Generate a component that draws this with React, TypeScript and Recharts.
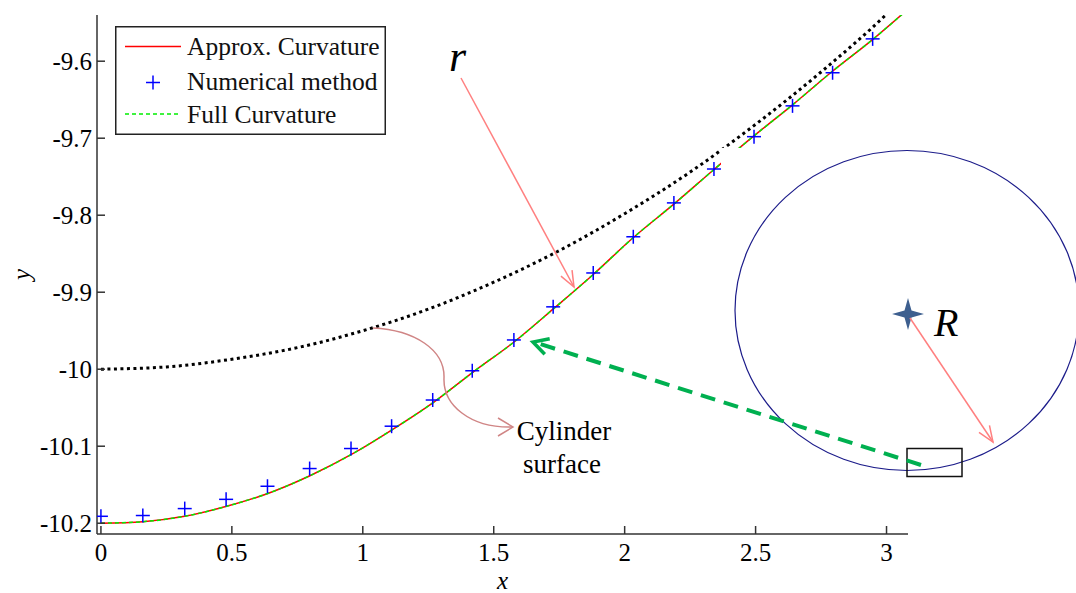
import { ComposedChart, Line, XAxis, YAxis, Legend } from 'recharts';

const FONT = '"Liberation Serif", "Times New Roman", serif';
const AXIS = '#333';

const xTicks = [0, 0.5, 1, 1.5, 2, 2.5, 3];
const yTicks = [-10.2, -10.1, -10, -9.9, -9.8, -9.7, -9.6];

// approx. curvature (red)
const approxX = [0, 0.16, 0.32, 0.48, 0.64, 0.8, 0.96, 1.11, 1.27, 1.42, 1.58, 1.73, 1.88, 2.03, 2.19, 2.34, 2.49, 2.64, 2.79, 2.95, 3.08];
const approxY = [-10.2, -10.198, -10.191, -10.178, -10.161, -10.138, -10.11, -10.079, -10.043, -10.004, -9.964, -9.921, -9.877, -9.83, -9.785, -9.741, -9.698, -9.657, -9.614, -9.571, -9.533];

// full curvature (green dashed) - sits on top of the red one
const fullX = [0, 0.16, 0.32, 0.48, 0.64, 0.8, 0.96, 1.11, 1.27, 1.42, 1.58, 1.73, 1.88, 2.03, 2.19, 2.34, 2.49, 2.64, 2.79, 2.95, 3.08];
const fullY = [-10.2, -10.198, -10.191, -10.178, -10.161, -10.138, -10.11, -10.079, -10.043, -10.004, -9.964, -9.921, -9.877, -9.83, -9.785, -9.741, -9.698, -9.657, -9.614, -9.571, -9.533];

// numerical method (blue +)
const numX = [0, 0.16, 0.32, 0.478, 0.636, 0.797, 0.955, 1.11, 1.267, 1.418, 1.577, 1.727, 1.88, 2.033, 2.188, 2.341, 2.494, 2.641, 2.794, 2.947];
const numY = [-10.191, -10.19, -10.181, -10.169, -10.152, -10.129, -10.103, -10.074, -10.04, -10.002, -9.962, -9.919, -9.875, -9.828, -9.784, -9.74, -9.698, -9.658, -9.615, -9.571];

// cylinder surface (black dotted)
const cylX = [0, 0.25, 0.5, 0.75, 1, 1.25, 1.5, 1.75, 2, 2.25, 2.5, 2.75, 3, 3.08];
const cylY = [-10, -9.997, -9.987, -9.972, -9.95, -9.922, -9.887, -9.846, -9.798, -9.744, -9.682, -9.614, -9.539, -9.512];

const zip = (xs: number[], ys: number[]) => xs.map((x, i) => ({ x, y: ys[i] }));

const approxData = zip(approxX, approxY);
const fullData = zip(fullX, fullY);
const numData = zip(numX, numY);
const cylData = zip(cylX, cylY);

const X_DOMAIN = [-0.015, 3.082];
const Y_DOMAIN = [-10.214, -9.54];

const PlusDot = (props: any) => {
  const { cx, cy, index } = props;
  if (cx == null || cy == null) return <g key={index} />;
  return (
    <g key={index}>
      <line x1={cx - 7} y1={cy} x2={cx + 7} y2={cy} stroke="#0000ff" strokeWidth={1.5} />
      <line x1={cx} y1={cy - 7} x2={cx} y2={cy + 7} stroke="#0000ff" strokeWidth={1.5} />
    </g>
  );
};

const BottomTick = ({ x, y, payload }: any) => (
  <g>
    <line x1={x} y1={y} x2={x} y2={y - 8} stroke={AXIS} strokeWidth={1.5} />
    <text x={x} y={y + 27} textAnchor="middle" fontFamily={FONT} fontSize={25} fill="#000">
      {String(payload.value)}
    </text>
  </g>
);

const LeftTick = ({ x, y, payload }: any) => (
  <g>
    <line x1={x} y1={y} x2={x + 8} y2={y} stroke={AXIS} strokeWidth={1.5} />
    <text x={x - 5} y={y + 8.5} textAnchor="end" fontFamily={FONT} fontSize={25} fill="#000">
      {String(payload.value)}
    </text>
  </g>
);

const TopTick = ({ x, y }: any) => (
  <line x1={x} y1={y} x2={x} y2={y + 8} stroke={AXIS} strokeWidth={1.5} />
);

const RightTick = ({ x, y }: any) => (
  <line x1={x} y1={y} x2={x - 8} y2={y} stroke={AXIS} strokeWidth={1.5} />
);

const renderLegend = () => (
  <svg width={271} height={109} style={{ display: 'block' }}>
    <rect x={0.75} y={0.75} width={269.5} height={107.5} fill="#fff" stroke="#222" strokeWidth={1.5} />
    <line x1={10} y1={20.5} x2={66} y2={20.5} stroke="#ff0000" strokeWidth={1.5} />
    <text x={72} y={28.5} fontFamily={FONT} fontSize={25.5} fill="#111">Approx. Curvature</text>
    <line x1={31} y1={56.5} x2={45} y2={56.5} stroke="#0000ff" strokeWidth={1.5} />
    <line x1={38} y1={49.5} x2={38} y2={63.5} stroke="#0000ff" strokeWidth={1.5} />
    <text x={72} y={64} fontFamily={FONT} fontSize={25.5} fill="#111">Numerical method</text>
    <line x1={10} y1={88} x2={66} y2={88} stroke="#00ee00" strokeWidth={1.5} strokeDasharray="4 3" />
    <text x={72} y={97} fontFamily={FONT} fontSize={25.5} fill="#111">Full Curvature</text>
  </svg>
);

const YLabel = ({ viewBox }: any) => {
  const cx = viewBox.x + 21;
  const cy = viewBox.y + viewBox.height / 2;
  return (
    <text
      x={cx}
      y={cy}
      transform={`rotate(-90, ${cx}, ${cy})`}
      textAnchor="middle"
      dominantBaseline="central"
      fontFamily={FONT}
      fontStyle="italic"
      fontSize={25}
      fill="#000"
    >
      y
    </text>
  );
};

const arrowHead = (tx: number, ty: number, fx: number, fy: number, len: number, spread: number) => {
  const a = Math.atan2(ty - fy, tx - fx);
  const p1 = [tx - len * Math.cos(a - spread), ty - len * Math.sin(a - spread)];
  const p2 = [tx - len * Math.cos(a + spread), ty - len * Math.sin(a + spread)];
  return `M${p1[0]},${p1[1]} L${tx},${ty} L${p2[0]},${p2[1]}`;
};

const Overlay = () => (
  <svg
    width={1076}
    height={593}
    style={{ position: 'absolute', left: 0, top: 0, pointerEvents: 'none' }}
  >
    {/* white patch behind the cylinder sketch */}
    <rect x={721} y={148} width={355} height={335} fill="#fff" />
    <ellipse cx={907} cy={310.5} rx={172} ry={160} fill="none" stroke="#1c1c8a" strokeWidth={1.2} />
    <path
      d="M908,298 L911.5,310.5 L924,314 L911.5,317.5 L908,330 L904.5,317.5 L892,314 L904.5,310.5 Z"
      fill="#3d5f8f"
    />
    <text x={934} y={336} fontFamily={FONT} fontStyle="italic" fontSize={40} fill="#000">R</text>
    <line x1={910} y1={318} x2={993} y2={442} stroke="#ff8080" strokeWidth={1.5} />
    <path d={arrowHead(993, 442, 910, 318, 17, 0.38)} fill="none" stroke="#ff8080" strokeWidth={1.5} />
    <rect x={907} y={448.5} width={55} height={28} fill="none" stroke="#111" strokeWidth={1.5} />

    {/* green dashed pointer */}
    <line x1={921} y1={465} x2={537} y2={343} stroke="#00b050" strokeWidth={4} strokeDasharray="15 9" />
    <path d={arrowHead(533, 342, 921, 465, 17, 0.5)} fill="none" stroke="#00b050" strokeWidth={3.5} />

    {/* r label and arrow */}
    <text x={449} y={71} fontFamily={FONT} fontStyle="italic" fontSize={44} fill="#000">r</text>
    <line x1={461} y1={78} x2={574} y2={287} stroke="#ff8080" strokeWidth={1.5} />
    <path d={arrowHead(574, 287, 461, 78, 17, 0.38)} fill="none" stroke="#ff8080" strokeWidth={1.5} />

    {/* curved arrow to cylinder surface label */}
    <path
      d="M373,328 C415,330 445,350 444,378 C443,405 470,428 512,427"
      fill="none"
      stroke="#d08585"
      strokeWidth={1.5}
    />
    <path d="M498,418 L513,427 L498,436" fill="none" stroke="#d08585" strokeWidth={1.5} />
    <text x={564} y={440} textAnchor="middle" fontFamily={FONT} fontSize={27} fill="#000">Cylinder</text>
    <text x={562} y={473} textAnchor="middle" fontFamily={FONT} fontSize={27} fill="#000">surface</text>
  </svg>
);

export default function App() {
  return (
    <div style={{ position: 'absolute', left: 0, top: 0, width: 1076, height: 593, background: '#fff' }}>
      <ComposedChart
        width={1076}
        height={593}
        margin={{ top: 15, right: 168, bottom: 0, left: 0 }}
      >
        <XAxis
          dataKey="x"
          type="number"
          domain={X_DOMAIN}
          ticks={xTicks}
          allowDataOverflow
          height={59}
          tickSize={0}
          tickMargin={0}
          tickLine={false}
          tick={BottomTick}
          axisLine={{ stroke: AXIS, strokeWidth: 1.5 }}
          interval={0}
          label={{ value: 'x', position: 'insideBottom', offset: 4, fontFamily: FONT, fontStyle: 'italic', fontSize: 25, fill: '#000' }}
        />
        <XAxis
          xAxisId="top"
          orientation="top"
          dataKey="x"
          type="number"
          domain={X_DOMAIN}
          ticks={xTicks}
          allowDataOverflow
          height={0}
          tickSize={0}
          tickMargin={0}
          tickLine={false}
          tick={TopTick}
          axisLine={{ stroke: AXIS, strokeWidth: 1.5 }}
          interval={0}
        />
        <YAxis
          type="number"
          domain={Y_DOMAIN}
          ticks={yTicks}
          allowDataOverflow
          width={97}
          tickSize={0}
          tickMargin={0}
          tickLine={false}
          tick={LeftTick}
          axisLine={{ stroke: AXIS, strokeWidth: 1.5 }}
          interval={0}
          label={<YLabel />}
        />
        <YAxis
          yAxisId="right"
          orientation="right"
          type="number"
          domain={Y_DOMAIN}
          ticks={yTicks}
          allowDataOverflow
          width={0}
          tickSize={0}
          tickMargin={0}
          tickLine={false}
          tick={RightTick}
          axisLine={{ stroke: AXIS, strokeWidth: 1.5 }}
          interval={0}
        />
        <Legend
          layout="horizontal"
          verticalAlign="middle"
          align="center"
          wrapperStyle={{ left: 115, top: 26, width: 271, height: 109 }}
          content={renderLegend}
        />
        <Line
          data={cylData}
          dataKey="y"
          type="monotone"
          stroke="#000"
          strokeWidth={3}
          strokeDasharray="3 3.5"
          dot={false}
          legendType="none"
          isAnimationActive={false}
        />
        <Line
          data={approxData}
          dataKey="y"
          type="monotone"
          stroke="#ff0000"
          strokeWidth={1.5}
          dot={false}
          isAnimationActive={false}
        />
        <Line
          data={fullData}
          dataKey="y"
          type="monotone"
          stroke="#00ee00"
          strokeWidth={1.5}
          strokeDasharray="4 3"
          dot={false}
          isAnimationActive={false}
        />
        <Line
          data={numData}
          dataKey="y"
          type="monotone"
          stroke="none"
          dot={PlusDot}
          isAnimationActive={false}
        />
      </ComposedChart>
      <Overlay />
    </div>
  );
}
